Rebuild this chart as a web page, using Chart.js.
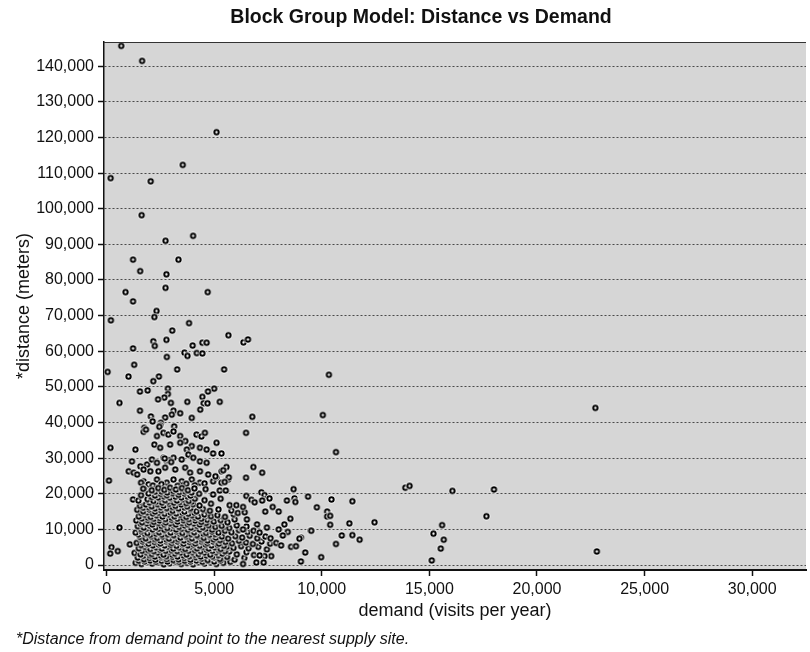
<!DOCTYPE html>
<html>
<head>
<meta charset="utf-8">
<script src="https://cdn.jsdelivr.net/npm/chart.js@4/dist/chart.umd.min.js"></script>
<style>
  html, body { margin: 0; padding: 0; background: #fff; }
  #chart { display: block; }
</style>
</head>
<body>
<canvas id="chart" width="810" height="652"></canvas>
<script>
// values in thousands: [demand (visits/yr), distance (m)]
const farPoints = [
  [0.68,145.7],[1.65,141.5],[5.11,121.5],[3.54,112.3],[0.19,108.6],[2.05,107.7],[1.63,98.2],
  [2.74,91.0],[4.02,92.4],[1.23,85.7],[3.34,85.7],[1.56,82.5],[2.78,81.6],[2.74,77.8],[0.88,76.6],
  [4.70,76.6],[1.23,74.0],[2.32,71.3],[2.22,69.6],[0.20,68.7],[3.83,67.9],[3.05,65.8],[5.66,64.5],
  [6.36,62.5],[6.57,63.3],[2.17,62.8],[2.24,61.5],[2.78,63.2],[1.23,60.8],[4.00,61.6],[4.45,62.4],
  [4.65,62.4],[2.80,58.4],[3.62,59.6],[3.76,58.7],[4.19,59.5],[4.45,59.4],[0.05,54.2],[1.28,56.2],
  [3.28,54.9],[5.46,54.9],[1.02,52.9],[2.43,52.9],[2.17,51.6],[10.33,53.4],[1.55,48.7],[1.91,49.0],
  [2.85,49.5],[2.85,48.0],[2.68,47.0],[2.39,46.5],[5.00,49.5],[4.71,48.7],[4.45,47.2],[0.60,45.5],
  [2.99,45.5],[3.75,45.8],[4.51,45.4],[4.69,45.4],[5.26,45.8],[1.55,43.3],[3.11,43.3],[3.42,42.6],
  [3.03,42.2],[4.35,43.6],[2.06,41.7],[2.72,41.4],[3.96,41.3],[6.77,41.6],[10.05,42.1],[2.14,40.3],
  [2.52,39.9],[2.49,39.2],[22.71,44.1]
]

const midPoints = [
  [1.75,38.5],[2.45,38.8],[3.14,38.9],[1.72,37.4],[1.83,38.0],[2.34,36.2],[2.64,37.1],[2.87,36.6],
  [3.11,37.5],[3.42,36.2],[3.66,34.8],[3.96,33.4],[4.18,36.6],[4.41,36.1],[4.57,37.1],[6.48,37.1],
  [0.18,32.9],[1.34,32.4],[2.22,33.8],[2.49,32.9],[2.95,33.8],[3.42,34.3],[3.73,32.4],[4.34,32.9],
  [4.65,32.4],[5.11,34.3],[4.95,31.3],[5.34,31.3],[10.66,31.7],[1.18,29.1],[1.57,27.7],[1.88,28.2],
  [2.11,29.6],[2.34,28.7],[2.64,30.1],[2.80,29.1],[3.11,30.1],[3.49,29.6],[3.80,31.0],[4.03,30.1],
  [4.34,29.1],[4.65,28.7],[2.90,29.4],[3.00,28.9],[2.70,29.9],[1.03,26.3],[1.26,25.9],[1.42,25.4],
  [1.72,26.8],[2.03,26.3],[2.41,26.3],[2.72,27.3],[3.19,26.8],[3.65,27.3],[3.88,25.9],[4.34,26.3],
  [4.72,25.4],[5.11,24.5],[5.34,26.3],[5.57,27.5],[6.82,27.5],[7.23,25.9],[6.48,24.5],[5.42,26.6],
  [0.11,23.7],[1.72,23.5],[1.95,22.6],[2.34,24.0],[2.80,23.1],[3.11,24.0],[3.49,23.5],[3.96,24.0],
  [4.34,23.1],[4.95,23.5],[5.34,23.1],[5.65,24.0],[5.06,24.9],[5.68,24.6],[5.49,23.3],[1.60,23.1],
  [2.15,22.3],[2.55,22.7],[3.30,22.2],[3.70,22.8],[4.10,22.4],[4.55,22.9]
]

const corePoints = [
  [1.35,0.6],[1.62,0.3],[1.88,0.8],[2.12,0.4],[2.41,0.7],[2.66,0.2],[2.93,0.5],[3.21,0.9],[3.47,0.3],
  [3.74,0.6],[4.02,0.2],[4.28,0.8],[4.55,0.4],[4.83,0.7],[5.10,0.3],[5.42,0.6],[5.75,0.9],
  [1.50,1.2],[1.77,1.0],[2.03,1.3],[2.30,0.9],[2.56,1.2],[2.83,1.0],[3.10,1.4],[3.37,0.9],[3.63,1.2],
  [3.90,1.0],[4.18,1.3],[4.46,0.9],[4.72,1.2],[5.00,1.0],[5.30,1.3],
  [1.45,2.1],[1.74,1.6],[2.00,2.0],[2.27,1.5],[2.55,2.2],[2.80,1.7],[3.08,2.3],[3.35,1.6],[3.62,2.0],
  [3.90,1.5],[4.16,2.2],[4.43,1.8],[4.70,1.4],[4.98,2.1],[5.27,1.7],[5.60,2.3],[5.95,1.5],[6.40,2.0],
  [1.70,2.6],[2.00,2.8],[2.25,2.4],[2.52,2.7],[2.78,2.5],[3.05,2.9],[3.30,2.4],[3.58,2.7],[3.85,2.5],
  [4.10,2.9],[4.38,2.4],[4.65,2.7],[4.92,2.5],[5.20,2.8],
  [1.30,3.4],[1.58,3.0],[1.85,3.6],[2.10,3.1],[2.38,3.5],[2.65,2.9],[2.92,3.7],[3.18,3.2],[3.45,3.5],
  [3.72,3.0],[4.00,3.6],[4.27,3.1],[4.55,3.5],[4.82,2.9],[5.10,3.6],[5.38,3.2],[5.70,3.8],[6.05,3.0],
  [6.50,3.6],[6.85,2.8],
  [1.65,4.0],[1.93,4.2],[2.20,3.9],[2.48,4.3],[2.75,4.0],[3.02,4.2],[3.28,3.9],[3.55,4.3],[3.82,4.0],
  [4.10,4.2],[4.37,3.9],[4.65,4.3],[4.92,4.0],[5.22,4.2],[5.50,3.9],
  [1.50,4.7],[1.78,5.1],[2.03,4.5],[2.30,5.0],[2.57,4.6],[2.85,5.2],[3.10,4.6],[3.38,5.0],[3.65,4.5],
  [3.92,5.2],[4.20,4.7],[4.48,5.1],[4.75,4.6],[5.03,5.0],[5.30,4.5],[5.60,5.2],[5.90,4.8],[6.25,5.3],
  [6.60,4.7],[7.05,5.1],[7.45,4.4],
  [1.60,5.6],[1.88,5.8],[2.15,5.5],[2.42,5.8],[2.70,5.5],[2.98,5.7],[3.25,5.4],[3.52,5.8],[3.78,5.5],
  [4.05,5.7],[4.33,5.4],[4.60,5.8],[4.88,5.5],[5.15,5.7],[5.45,5.4],
  [1.40,6.2],[1.68,6.6],[1.95,6.0],[2.22,6.5],[2.50,6.1],[2.77,6.7],[3.03,6.2],[3.30,6.6],[3.58,6.0],
  [3.85,6.5],[4.12,6.1],[4.40,6.7],[4.68,6.2],[4.95,6.6],[5.22,6.0],[5.52,6.5],[5.83,6.1],[6.15,6.8],
  [6.48,6.3],[6.80,5.9],[7.20,6.6],[7.60,6.0],
  [1.70,7.1],[1.97,7.0],[2.24,7.3],[2.50,6.9],[2.78,7.2],[3.05,7.0],[3.32,7.3],[3.60,6.9],[3.87,7.2],
  [4.14,7.0],[4.42,7.3],[4.70,6.9],[4.98,7.2],[5.27,7.0],
  [1.55,7.9],[1.82,7.5],[2.08,8.1],[2.35,7.6],[2.62,8.0],[2.90,7.4],[3.16,8.2],[3.43,7.7],[3.70,8.1],
  [3.97,7.5],[4.25,8.0],[4.52,7.6],[4.80,8.2],[5.08,7.7],[5.36,8.0],[5.65,7.4],[5.98,8.1],[6.30,7.7],
  [6.65,8.2],[7.00,7.5],[7.38,8.0],
  [1.48,8.6],[1.76,8.8],[2.03,8.5],[2.30,8.8],[2.57,8.5],[2.84,8.7],[3.12,8.4],[3.40,8.8],[3.66,8.5],
  [3.93,8.7],[4.20,8.4],[4.50,8.8],[4.78,8.5],[5.05,8.7],
  [1.35,9.1],[1.62,9.5],[1.90,9.0],[2.17,9.6],[2.44,9.2],[2.70,9.7],[2.98,9.1],[3.25,9.5],[3.52,9.0],
  [3.80,9.6],[4.07,9.2],[4.35,9.7],[4.62,9.0],[4.90,9.4],[5.20,9.1],[5.50,9.6],[5.80,9.2],[6.15,9.8],
  [6.55,9.3],[7.00,9.9],
  [1.60,10.1],[1.86,10.3],[2.14,10.0],[2.42,10.2],[2.68,9.9],[2.96,10.3],[3.23,10.0],[3.50,10.2],
  [3.78,9.9],[4.05,10.3],[4.33,10.0],[4.60,10.2],[4.90,9.9],
  [1.45,10.9],[1.73,10.5],[2.00,11.1],[2.28,10.6],[2.55,11.0],[2.82,10.4],[3.10,11.2],[3.37,10.7],
  [3.64,11.1],[3.92,10.5],[4.20,11.0],[4.47,10.6],[4.75,11.2],[5.05,10.7],[5.35,11.0],[5.70,10.4],
  [6.05,11.1],[6.50,10.8],
  [1.58,11.6],[1.86,11.7],[2.13,11.4],[2.40,11.8],[2.68,11.5],[2.95,11.7],[3.22,11.4],[3.50,11.8],
  [3.77,11.5],[4.05,11.7],[4.33,11.4],[4.62,11.8],
  [1.38,12.5],[1.65,12.0],[1.92,12.6],[2.20,12.1],[2.47,12.5],[2.75,12.0],[3.02,12.7],[3.30,12.2],
  [3.57,12.6],[3.84,12.0],[4.12,12.5],[4.40,12.1],[4.68,12.7],[4.98,12.2],[5.30,12.6],[5.62,12.0],
  [5.95,12.8],
  [1.64,13.1],[1.92,13.3],[2.20,13.0],[2.47,13.2],[2.74,12.9],[3.02,13.3],[3.29,13.0],[3.56,13.2],
  [3.83,12.9],[4.10,13.3],[4.40,13.0],
  [1.50,13.6],[1.78,14.1],[2.05,13.5],[2.32,14.0],[2.60,13.6],[2.87,14.2],[3.15,13.7],[3.42,14.1],
  [3.70,13.5],[3.97,14.0],[4.25,13.6],[4.55,14.2],[4.85,13.7],[5.15,14.0],[5.50,13.5],[5.90,14.3],
  [1.60,14.6],[1.88,14.8],[2.15,14.5],[2.42,14.7],[2.70,14.4],[2.97,14.8],[3.24,14.5],[3.52,14.7],
  [3.80,14.4],[4.08,14.7],
  [1.42,15.5],[1.70,15.1],[1.98,15.6],[2.25,15.0],[2.53,15.4],[2.80,15.8],[3.07,15.2],[3.35,15.6],
  [3.62,15.0],[3.90,15.5],[4.18,15.1],[4.48,15.7],[4.80,15.2],[5.20,15.6],[5.80,15.3],[6.10,14.6],
  [1.70,16.1],[1.97,16.2],[2.25,15.9],[2.52,16.2],[2.80,16.0],[3.07,16.3],[3.35,15.9],[3.62,16.2],
  [3.90,16.0],
  [1.55,16.6],[1.83,17.0],[2.10,16.5],[2.38,17.1],[2.65,16.7],[2.92,17.2],[3.20,16.6],[3.47,17.0],
  [3.75,16.5],[4.03,17.1],[4.32,16.7],[4.85,17.2],
  [2.00,17.6],[2.30,17.8],[2.58,17.5],[2.86,17.8],[3.13,17.5],[3.40,17.7],[3.70,17.4],[3.96,17.8],
  [1.48,18.1],[1.90,18.5],[2.18,18.0],[2.45,18.6],[2.72,18.2],[3.00,18.7],[3.27,18.1],[3.55,18.5],
  [3.82,18.0],[4.10,18.6],[4.55,18.2],[5.30,18.6],
  [2.10,19.1],[2.40,19.0],[2.67,19.3],[2.94,18.9],[3.20,19.2],[3.48,19.0],[3.76,19.3],
  [1.60,19.6],[1.95,20.1],[2.25,19.5],[2.52,20.0],[2.80,19.6],[3.07,20.2],[3.35,19.7],[3.62,20.1],
  [3.90,19.5],[4.30,20.0],[4.95,19.8],
  [2.25,20.6],[2.55,20.7],[2.82,20.4],[3.10,20.8],[3.38,20.5],[3.65,20.7],[3.95,20.4],
  [1.70,21.4],[2.10,21.0],[2.40,21.6],[2.68,21.1],[2.95,21.7],[3.22,21.2],[3.50,21.6],[3.78,21.0],
  [4.08,21.5],[4.60,21.3]
]

const westPoints = [
  [0.60,10.5],[0.23,5.0],[0.52,3.9],[0.17,3.2],[1.08,5.8],[1.23,18.4],[1.45,15.6],[1.60,12.8],[1.75,21.2]
]

const eastPoints = [
  [6.42,14.8],[6.52,12.8],[6.34,10.0],[6.99,11.4],[7.45,10.5],[6.83,9.6],[7.11,9.1],[8.26,11.4],
  [8.42,9.3],[8.00,10.0],[8.19,8.3],[7.62,7.5],[7.88,6.2],[8.11,5.5],[8.57,5.1],[8.80,5.3],[7.65,2.5],
  [7.34,2.5],[7.11,2.7],[6.34,0.3],[7.72,16.3],[8.00,15.0],[7.37,15.0],[8.54,13.0],[9.49,9.7],
  [9.03,7.7],[9.23,3.5],[9.03,1.0],[9.97,2.2],[5.72,16.8],[6.03,16.8],[6.34,16.3],[6.49,19.4],
  [6.73,18.3],[6.88,17.6],[7.19,20.4],[7.34,19.6],[7.57,18.7],[7.23,18.1],[8.69,21.3],[8.73,18.7],
  [8.77,17.7],[8.38,18.1],[9.36,19.2],[9.77,16.2],[10.45,18.4],[11.42,17.9],[10.25,15.0],[10.25,13.6],
  [10.39,13.8],[10.39,11.3],[11.28,11.7],[12.45,12.0],[9.51,9.6],[10.93,8.3],[11.42,8.4],[11.76,7.1],
  [10.66,5.9],[13.88,21.7],[14.08,22.2],[16.07,20.8],[18.00,21.2],[17.65,13.7],[15.59,11.2],
  [15.19,8.8],[15.67,7.1],[15.53,4.6],[15.11,1.3],[22.78,3.8],[5.26,20.9],[5.54,20.9],[6.96,0.7],
  [7.30,0.7],[8.96,7.4]
]

const demandTicks = [0, 5000, 10000, 15000, 20000, 25000, 30000]
const distanceTicks = [0, 10000, 20000, 30000, 40000, 50000, 60000, 70000, 80000, 90000,
  100000, 110000, 120000, 130000, 140000]

const titulo = 'Block Group Model: Distance vs Demand'
const nota = '*Distance from demand point to the nearest supply site.'
const fuente = "'Liberation Sans', Arial, sans-serif"

const puntos = [...farPoints, ...midPoints, ...westPoints, ...corePoints, ...eastPoints]
  .map(([d, m]) => ({ x: d * 1000, y: m * 1000 }))

// marcador: aro negro con halo blanco
const marcador = document.createElement('canvas')
marcador.width = 9
marcador.height = 9
const mctx = marcador.getContext('2d')
mctx.fillStyle = '#fff'
mctx.beginPath()
mctx.arc(4.5, 4.5, 3.9, 0, Math.PI * 2)
mctx.fill()
mctx.strokeStyle = '#000'
mctx.lineWidth = 2
mctx.beginPath()
mctx.arc(4.5, 4.5, 2.2, 0, Math.PI * 2)
mctx.stroke()

const marco = {
  id: 'marco',
  beforeDraw(chart) {
    const { ctx, chartArea: a } = chart
    ctx.save()
    ctx.fillStyle = '#d6d6d6'
    ctx.fillRect(a.left, a.top, a.right - a.left, a.bottom - a.top)
    ctx.restore()
  },
  afterDraw(chart) {
    const { ctx, chartArea: a } = chart
    ctx.save()
    ctx.strokeStyle = '#333'
    ctx.lineWidth = 1
    ctx.beginPath()
    ctx.moveTo(a.left, a.top + 0.5)
    ctx.lineTo(a.right, a.top + 0.5)
    ctx.stroke()

    ctx.fillStyle = '#111'
    ctx.textBaseline = 'middle'
    ctx.textAlign = 'center'
    ctx.font = 'bold 19.5px ' + fuente
    ctx.fillText(titulo, 421, 18)

    ctx.textAlign = 'left'
    ctx.font = 'italic 16px ' + fuente
    ctx.fillText(nota, 16, 640)
    ctx.restore()
  }
}

const ctx = document.getElementById('chart').getContext('2d')

new Chart(ctx, {
  type: 'scatter',
  data: {
    datasets: [{
      data: puntos,
      pointStyle: marcador,
      pointRadius: 4,
      borderWidth: 0
    }]
  },
  options: {
    responsive: false,
    animation: false,
    events: [],
    layout: { padding: { top: 42, left: 11, right: 0, bottom: 28 } },
    plugins: {
      legend: { display: false },
      tooltip: { enabled: false }
    },
    scales: {
      x: {
        type: 'linear',
        min: -120,
        max: 32500,
        afterFit: (scale) => { scale.height = 54 },
        afterBuildTicks: (scale) => { scale.ticks = demandTicks.map(v => ({ value: v })) },
        ticks: {
          padding: 4,
          maxRotation: 0,
          color: '#111',
          font: { family: fuente, size: 16 },
          callback: v => v.toLocaleString('en-US')
        },
        grid: {
          drawOnChartArea: false,
          tickLength: 6,
          tickColor: '#111',
          tickWidth: 1.5
        },
        border: { color: '#111', width: 2 },
        title: {
          display: true,
          text: 'demand (visits per year)',
          color: '#111',
          font: { family: fuente, size: 18 },
          padding: { top: 2, bottom: 2 }
        }
      },
      y: {
        type: 'linear',
        min: -1400,
        max: 146800,
        afterFit: (scale) => { scale.width = 93 },
        afterBuildTicks: (scale) => { scale.ticks = distanceTicks.map(v => ({ value: v })) },
        ticks: {
          padding: 4,
          autoSkip: false,
          color: '#111',
          font: { family: fuente, size: 16 },
          callback: v => v.toLocaleString('en-US')
        },
        grid: {
          color: '#4a4a4a',
          lineWidth: 1,
          tickLength: 6,
          tickColor: '#111',
          tickWidth: 1.5,
          tickBorderDash: []
        },
        border: { color: '#111', width: 1.5, dash: [2, 2] },
        title: {
          display: true,
          text: '*distance (meters)',
          color: '#111',
          font: { family: fuente, size: 18 },
          padding: { top: 2, bottom: 2 }
        }
      }
    }
  },
  plugins: [marco]
})
</script>
</body>
</html>
